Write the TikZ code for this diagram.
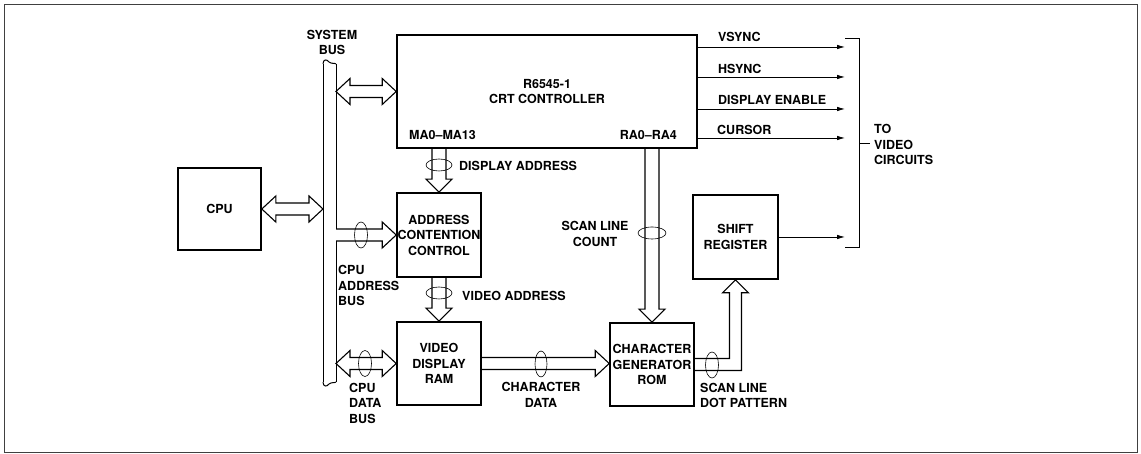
\documentclass[tikz,border=0pt]{standalone}
\usepackage{fontspec}
\setmainfont{TeX Gyre Heros}
\usetikzlibrary{calc, arrows.meta}

\tikzset{
  block/.style={draw, line width=1.6pt, align=center, inner sep=0pt},
  bus/.style={line width=1.1pt, line join=miter},
  sig/.style={line width=0.8pt, -{Latex[length=8pt,width=4.5pt]}},
  lbl/.style={align=left, inner sep=0pt},
  marker/.style={line width=0.6pt}
}

% hollow bus arrows
\newcommand\busboth[2]{% two heads, horizontal
  \draw[bus] let \p1=#1, \p2=#2 in
    (\x1,\y1) -- (\x1+14pt,\y1+13pt) -- (\x1+14pt,\y1+6pt) -- (\x2-14pt,\y1+6pt)
    -- (\x2-14pt,\y1+13pt) -- (\x2,\y1) -- (\x2-14pt,\y1-13pt) -- (\x2-14pt,\y1-6pt)
    -- (\x1+14pt,\y1-6pt) -- (\x1+14pt,\y1-13pt) -- cycle;}
\newcommand\busright[2]{% head at right end, open tail
  \draw[bus] let \p1=#1, \p2=#2 in
    (\x1,\y1+6pt) -- (\x2-14pt,\y1+6pt) -- (\x2-14pt,\y1+13pt) -- (\x2,\y1)
    -- (\x2-14pt,\y1-13pt) -- (\x2-14pt,\y1-6pt) -- (\x1,\y1-6pt);}
\newcommand\busdown[2]{% head at lower end, open tail
  \draw[bus] let \p1=#1, \p2=#2 in
    (\x1-7pt,\y1) -- (\x1-7pt,\y2+13pt) -- (\x1-13pt,\y2+13pt) -- (\x1,\y2)
    -- (\x1+13pt,\y2+13pt) -- (\x1+7pt,\y2+13pt) -- (\x1+7pt,\y1);}

\begin{document}
\begin{tikzpicture}[x=1pt, y=1pt, font=\fontsize{12.5}{15.5}\selectfont\bfseries]
    \useasboundingbox (0,0) rectangle (1141,454);

    % frame
    \draw[line width=0.9pt, black!75] (4,2) rectangle (1137,450);

    % blocks
    \node[block, minimum width=83pt, minimum height=82pt] (cpu) at (219.5,245) {CPU};
    \node[block, minimum width=300pt, minimum height=113pt] (crtc) at (547,362.5) {R6545-1\\CRT CONTROLLER};
    \node[block, minimum width=84pt, minimum height=84pt] (acc) at (439,219) {ADDRESS\\CONTENTION\\CONTROL};
    \node[block, minimum width=84pt, minimum height=83pt] (vdr) at (439,90.5) {VIDEO\\DISPLAY\\RAM};
    \node[block, minimum width=84pt, minimum height=83pt] (cgr) at (652,89.5) {CHARACTER\\GENERATOR\\ROM};
    \node[block, minimum width=85pt, minimum height=84pt] (sr) at (735.5,217) {SHIFT\\REGISTER};

    \node[lbl, anchor=west] (ma) at (409,319) {MA0--MA13};
    \node[lbl, anchor=east] (ra) at (677,319) {RA0--RA4};

    % system bus
    \coordinate (bustl) at (323,390);
    \coordinate (bustr) at (336,390);
    \coordinate (busbl) at (323,72);
    \coordinate (busbr) at (336,72);
    \draw[line width=1pt] (bustl) -- (busbl);
    \draw[line width=1pt] (bustr) -- ($(bustr |- acc.west)+(0,6)$);
    \draw[line width=1pt] ($(busbr |- acc.west)+(0,-6)$) -- (busbr);
    \draw[line width=1pt] (bustl) .. controls (323,395) and (327,395) .. (329,392) .. controls (331,390) and (336,391) .. (bustr);
    \draw[line width=1pt] (busbl) .. controls (323,67) and (327,67) .. (329,70) .. controls (331,72) and (336,71) .. (busbr);
    \node[lbl, align=center] (sysbus) at (332,411.5) {SYSTEM\\BUS};

    % bus arrows
    \busboth{(cpu.east)}{(bustl |- cpu.east)}
    \busboth{(bustr |- crtc.west)}{(crtc.west)}
    \busright{(bustr |- acc.west)}{(acc.west)}
    \busboth{(bustr |- vdr.west)}{(vdr.west)}
    \busdown{(acc.north |- crtc.south)}{(acc.north)}
    \busdown{(acc.south)}{(vdr.north)}
    \busright{(vdr.east)}{(cgr.west)}
    \busdown{(cgr.north |- crtc.south)}{(cgr.north)}
    \draw[bus] let \p1=(cgr.east), \p2=(sr.south) in
        (\x1,\y1+6pt) -- (\x2-6pt,\y1+6pt) -- (\x2-6pt,\y2-13pt) -- (\x2-13pt,\y2-13pt) -- (\x2,\y2)
        -- (\x2+13pt,\y2-13pt) -- (\x2+6pt,\y2-13pt) -- (\x2+6pt,\y1-6pt) -- (\x1,\y1-6pt);

    % bus width markers
    \draw[marker] (439,289) ellipse [x radius=13pt, y radius=6pt];
    \draw[marker] (439,161) ellipse [x radius=13pt, y radius=6pt];
    \draw[marker] (652,221) ellipse [x radius=14pt, y radius=6pt];
    \draw[marker] (361,219) ellipse [x radius=6.5pt, y radius=13pt];
    \draw[marker] (365,90.5) ellipse [x radius=6.5pt, y radius=13pt];
    \draw[marker] (541,90) ellipse [x radius=6pt, y radius=13pt];
    \draw[marker] (712,89) ellipse [x radius=6.5pt, y radius=13pt];

    % bus labels
    \node[lbl, anchor=west] (dispaddr) at (459,288) {DISPLAY ADDRESS};
    \node[lbl, anchor=west] (vidaddr) at (462,158) {VIDEO ADDRESS};
    \node[lbl, anchor=west] (cpuaddr) at (338,168.5) {CPU\\ADDRESS\\BUS};
    \node[lbl, anchor=west] (cpudata) at (349,51) {CPU\\DATA\\BUS};
    \node[lbl, align=center] (chardata) at (541,59) {CHARACTER\\DATA};
    \node[lbl, align=center] (scancount) at (595,220) {SCAN LINE\\COUNT};
    \node[lbl, anchor=west] (dotpat) at (700,58.5) {SCAN LINE\\DOT PATTERN};

    % video outputs
    \coordinate (vsync) at (845,407);
    \coordinate (hsync) at (845,377);
    \coordinate (dispen) at (845,345);
    \coordinate (cursor) at (845,316);
    \draw[sig] (crtc.east |- vsync) -- (vsync);
    \draw[sig] (crtc.east |- hsync) -- (hsync);
    \draw[sig] (crtc.east |- dispen) -- (dispen);
    \draw[sig] (crtc.east |- cursor) -- (cursor);
    \draw[sig] (sr.east) -- (sr.east -| vsync);
    \node[lbl, anchor=west] (vsynclbl) at (718,417) {VSYNC};
    \node[lbl, anchor=west] (hsynclbl) at (718,385) {HSYNC};
    \node[lbl, anchor=west] (dispenlbl) at (718,354) {DISPLAY ENABLE};
    \node[lbl, anchor=west] (cursorlbl) at (717,324) {CURSOR};

    % bracket
    \coordinate (brtop) at (859,416);
    \coordinate (brbot) at (859,207);
    \draw[line width=0.8pt] (brtop -| vsync) -- (brtop) -- (brbot) -- (brbot -| vsync);
    \draw[line width=0.8pt] (859,311) -- (870,311);
    \node[lbl, anchor=west] (tovideo) at (874,309.5) {TO\\VIDEO\\CIRCUITS};
\end{tikzpicture}
\end{document}
